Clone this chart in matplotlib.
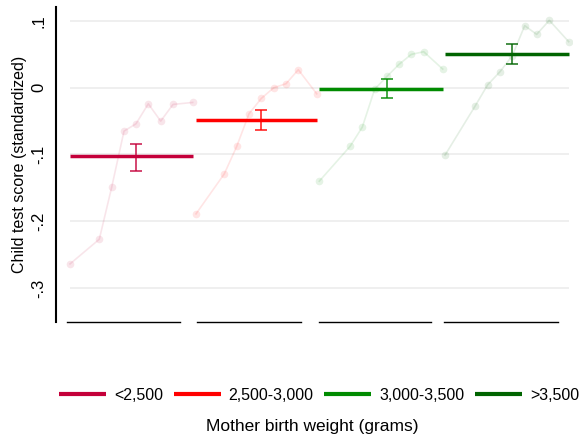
import matplotlib
matplotlib.use("Agg")
import matplotlib.pyplot as plt
import matplotlib.transforms as mtransforms

plt.rcParams['font.family'] = ['Liberation Sans', 'DejaVu Sans']

# --- data (x in plot units, y = standardized child test score) ---
groups = ['<2,500', '2,500-3,000', '3,000-3,500', '>3,500']
colors = ['#C4003A', '#FF0000', '#008B00', '#006400']

x_bins = [
    [14, 43.3, 55.7, 68, 80, 92.3, 104.7, 117, 136.7],
    [140, 168.3, 180.7, 193, 205.3, 217.7, 230, 242.3, 260.7],
    [263.3, 294, 306.3, 318.7, 331, 343, 355.3, 367.7, 386.7],
    [389, 419.3, 431.7, 444, 456.3, 468.7, 480.7, 493.3, 512.7],
]
scores = [
    [-0.264, -0.227, -0.149, -0.065, -0.054, -0.024, -0.050, -0.025, -0.022],
    [-0.189, -0.129, -0.088, -0.039, -0.016, 0.000, 0.006, 0.027, -0.009],
    [-0.140, -0.088, -0.059, -0.002, 0.017, 0.035, 0.050, 0.054, 0.028],
    [-0.101, -0.027, 0.0045, 0.024, 0.048, 0.093, 0.080, 0.101, 0.069],
]
group_means = [-0.103, -0.048, -0.0015, 0.050]
ci_low = [-0.125, -0.063, -0.016, 0.036]
ci_high = [-0.084, -0.033, 0.013, 0.065]

# separate x-axis lines under each group
axis_spans = [(11, 124), (141, 245), (263, 375), (388, 502)]

yticks = [-0.3, -0.2, -0.1, 0, 0.1]
ytick_labels = ['-.3', '-.2', '-.1', '0', '.1']

fig = plt.figure(figsize=(5.84, 4.36), dpi=100)
ax = fig.add_axes([56 / 584, 1 - 322 / 436, 516 / 584, 315 / 436])

xmin = min(min(x) for x in x_bins)
xmax = max(max(x) for x in x_bins)
ax.hlines(yticks, xmin, xmax, color='#ececec', lw=1.2, zorder=0)

for i in range(len(groups)):
    c = colors[i]
    ax.plot(x_bins[i], scores[i], '-o', color=c, alpha=0.1, ms=5.5,
            mew=0, lw=1.2, zorder=1)
    ax.plot([x_bins[i][0], x_bins[i][-1]], [group_means[i]] * 2, color=c,
            lw=2.5, solid_capstyle='butt', zorder=3, label=groups[i])
    xe = x_bins[i][4]
    ax.errorbar([xe], [group_means[i]],
                yerr=[[group_means[i] - ci_low[i]], [ci_high[i] - group_means[i]]],
                fmt='none', ecolor=c, alpha=0.85, elinewidth=1.2, capsize=4.4,
                capthick=1.2, zorder=4)

trans = mtransforms.blended_transform_factory(ax.transData, ax.transAxes)
for a, b in axis_spans:
    ax.plot([a, b], [0, 0], color='black', lw=1, transform=trans, clip_on=False)

ax.set_xlim(0, 516)
ax.set_ylim(-0.351, 0.121)
ax.set_xticks([])
ax.set_yticks(yticks)
ax.set_yticklabels(ytick_labels, rotation=90, va='center', fontsize=12)
ax.tick_params(axis='y', length=0, pad=7)
for s in ['top', 'right', 'bottom']:
    ax.spines[s].set_visible(False)
ax.spines['left'].set_linewidth(1.5)
ax.set_ylabel('Child test score (standardized)', fontsize=11.5, labelpad=3)

handles, labels = ax.get_legend_handles_labels()
fig.legend(handles, labels, loc='center', bbox_to_anchor=(319 / 584, 1 - 395 / 436),
           ncol=4, frameon=False, fontsize=11.5, handlelength=2.95,
           handletextpad=0.5, columnspacing=0.65, borderpad=0)
for h in fig.legends[0].get_lines():
    h.set_linewidth(3)

fig.text(312 / 584, 1 - 426 / 436, 'Mother birth weight (grams)', ha='center',
         va='center', fontsize=12.5)

fig.savefig('out.png', dpi=100)
